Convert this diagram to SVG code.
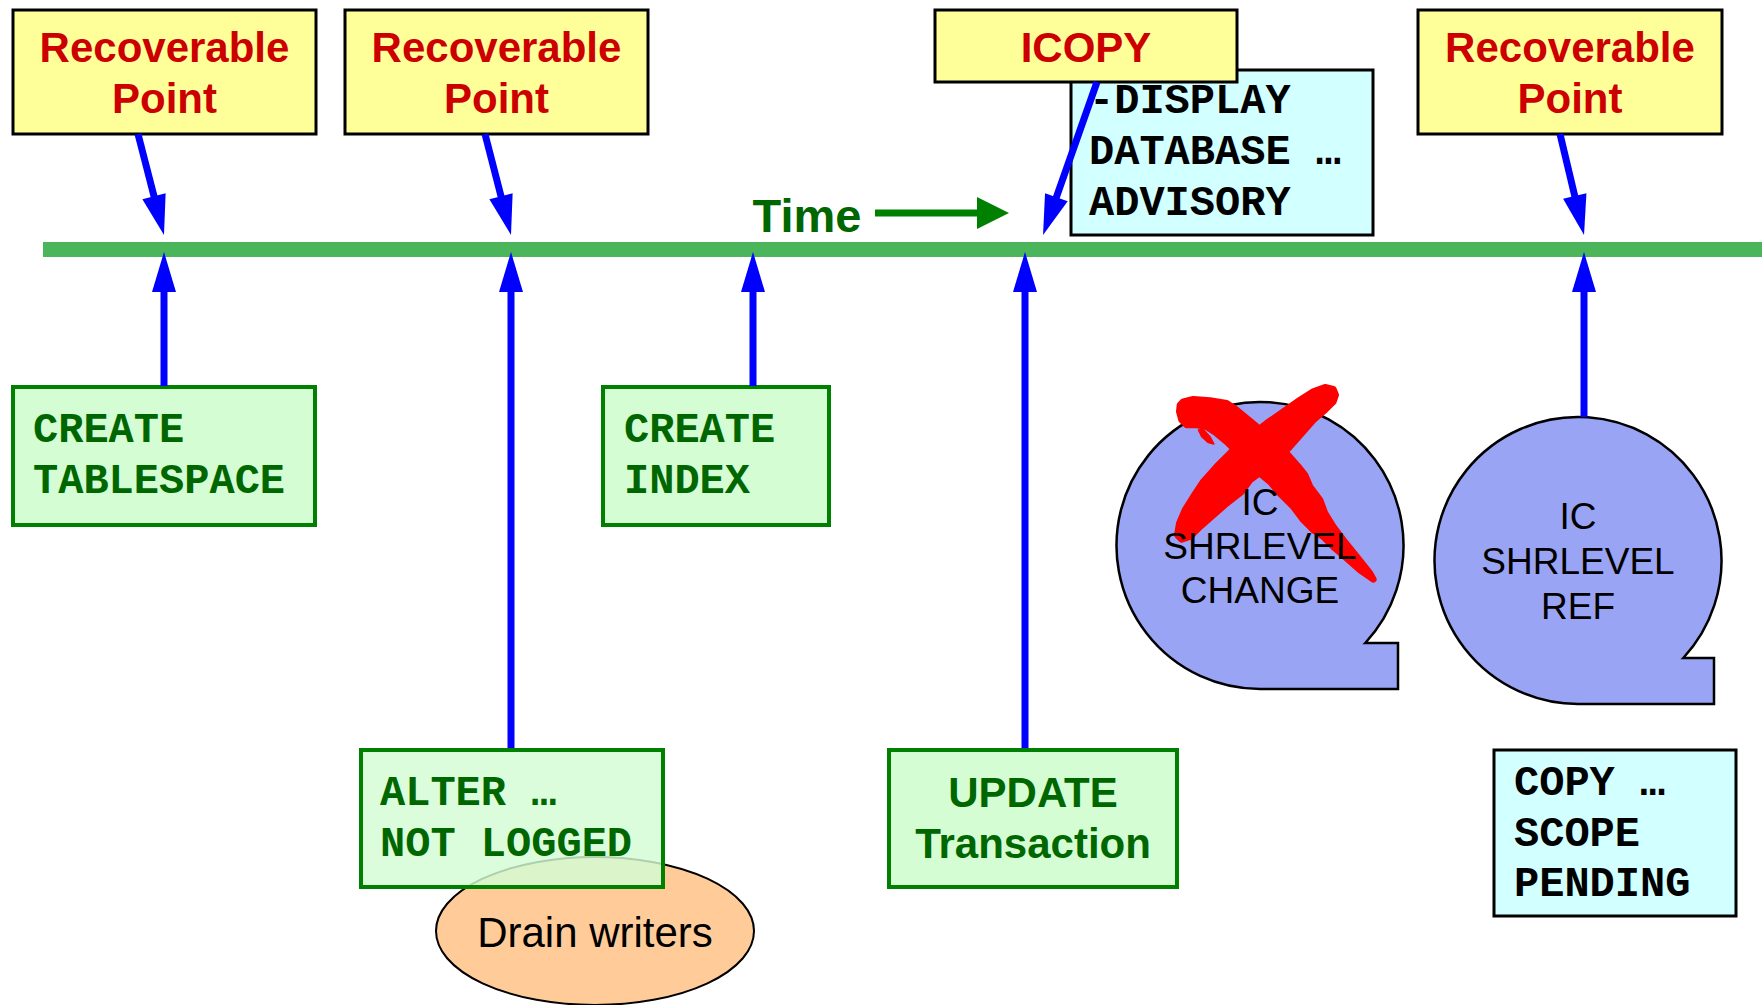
<svg xmlns="http://www.w3.org/2000/svg" width="1762" height="1005" viewBox="0 0 1762 1005">
  <style>
    .rp { fill: #ffff99; stroke: #000000; stroke-width: 3; }
    .rp-text { font-family: "Liberation Sans", Arial, sans-serif; font-weight: bold; font-size: 42px; fill: #cc0000; text-anchor: middle; }
    .cmd { fill: #d4fdd4; stroke: #008000; stroke-width: 4; }
    .cmd-text { font-family: "Liberation Mono", "Courier New", monospace; font-weight: bold; font-size: 42px; fill: #006600; }
    .note { fill: #d2ffff; stroke: #000000; stroke-width: 3; }
    .note-text { font-family: "Liberation Mono", "Courier New", monospace; font-weight: bold; font-size: 42px; fill: #000000; }
    .tx-text { font-family: "Liberation Sans", Arial, sans-serif; font-weight: bold; font-size: 42px; fill: #006600; text-anchor: middle; }
    .tape { fill: #9aa4f4; stroke: #000000; stroke-width: 2.5; }
    .tape-text { font-family: "Liberation Sans", Arial, sans-serif; font-size: 37px; fill: #000000; text-anchor: middle; }
    .flow { fill: none; stroke: #0000ff; stroke-width: 7; marker-end: url(#blue-head); }
    .brush { fill: #ff0000; stroke: #ff0000; stroke-width: 20; stroke-linejoin: round; }
  </style>
  <defs>
    <marker id="blue-head" markerUnits="userSpaceOnUse" markerWidth="40" markerHeight="24" refX="20" refY="12" orient="auto" overflow="visible">
      <path d="M0,0 L40,12 L0,24 Z" fill="#0000ff"/>
    </marker>
    <marker id="green-head" markerUnits="userSpaceOnUse" markerWidth="32" markerHeight="32" refX="16" refY="16" orient="auto" overflow="visible">
      <path d="M0,0 L32,16 L0,32 Z" fill="#008000"/>
    </marker>
  </defs>

  <rect width="1762" height="1005" fill="#ffffff"/>

  <!-- time line -->
  <g id="timeline">
    <rect x="43" y="242" width="1719" height="15" fill="#4ab55a"/>
    <text x="807" y="232" font-family="Liberation Sans, Arial, sans-serif" font-weight="bold" font-size="47" fill="#006600" text-anchor="middle">Time</text>
    <line x1="875" y1="213" x2="993" y2="213" stroke="#008000" stroke-width="7" marker-end="url(#green-head)"/>
  </g>

  <!-- recoverable points above the line -->
  <g id="rp1">
    <rect class="rp" x="13" y="10" width="303" height="124"/>
    <text class="rp-text" x="164.5" y="62">Recoverable</text>
    <text class="rp-text" x="164.5" y="113">Point</text>
  </g>
  <g id="rp2">
    <rect class="rp" x="345" y="10" width="303" height="124"/>
    <text class="rp-text" x="496.5" y="62">Recoverable</text>
    <text class="rp-text" x="496.5" y="113">Point</text>
  </g>
  <g id="display-note">
    <rect class="note" x="1071" y="70" width="302" height="165"/>
    <text class="note-text" x="1089" y="113">-DISPLAY</text>
    <text class="note-text" x="1089" y="164">DATABASE …</text>
    <text class="note-text" x="1089" y="215">ADVISORY</text>
  </g>
  <g id="icopy">
    <rect class="rp" x="935" y="10" width="302" height="72"/>
    <text class="rp-text" x="1086" y="62">ICOPY</text>
  </g>
  <g id="rp3">
    <rect class="rp" x="1418" y="10" width="304" height="124"/>
    <text class="rp-text" x="1570" y="62">Recoverable</text>
    <text class="rp-text" x="1570" y="113">Point</text>
  </g>

  <!-- events below the line -->
  <g id="create-tablespace">
    <rect class="cmd" x="13" y="387" width="302" height="138"/>
    <text class="cmd-text" x="33" y="442">CREATE</text>
    <text class="cmd-text" x="33" y="493">TABLESPACE</text>
  </g>
  <g id="create-index">
    <rect class="cmd" x="603" y="387" width="226" height="138"/>
    <text class="cmd-text" x="624" y="442">CREATE</text>
    <text class="cmd-text" x="624" y="493">INDEX</text>
  </g>
  <g id="drain-writers">
    <ellipse cx="595" cy="931" rx="159" ry="74" fill="#ffcc99" stroke="#000000" stroke-width="2"/>
    <text x="595" y="947" font-family="Liberation Sans, Arial, sans-serif" font-size="42" fill="#000000" text-anchor="middle">Drain writers</text>
  </g>
  <g id="alter-not-logged">
    <rect class="cmd" x="361" y="750" width="302" height="137" fill-opacity="0.82"/>
    <text class="cmd-text" x="380" y="805">ALTER …</text>
    <text class="cmd-text" x="380" y="856">NOT LOGGED</text>
  </g>
  <g id="update-transaction">
    <rect class="cmd" x="889" y="750" width="288" height="137"/>
    <text class="tx-text" x="1033" y="807">UPDATE</text>
    <text class="tx-text" x="1033" y="858">Transaction</text>
  </g>

  <g id="ic-shrlevel-change">
    <path class="tape" d="M1365.3,643 L1398,643 L1398,689 L1260,689 A143.5,143.5 0 1 1 1365.3,643 Z"/>
    <!-- struck-out brush mark -->
    <g transform="translate(1170,380) scale(0.3333)" class="brush">
      <path d="M28,95 L30,75 L40,65 L70,58 L120,62 L170,70 L200,90 L230,115 L260,140 L300,175 L350,220 L385,260 L405,285 L420,320 L450,360 L465,400 L490,440 L520,480 L560,530 L600,580 L610,598 L570,570 L530,535 L495,505 L460,470 L430,450 L400,420 L370,380 L330,340 L300,305 L270,280 L235,250 L200,215 L170,185 L140,160 L110,140 L80,135 L50,135 L35,120 Z"/>
      <path d="M85,150 L100,148 L120,170 L132,192 L115,188 L95,170 Z" stroke-width="4"/>
      <path d="M22,465 L28,430 L45,390 L70,350 L100,305 L140,260 L180,220 L230,175 L290,130 L340,95 L390,60 L430,35 L465,22 L490,28 L497,45 L490,65 L465,90 L430,120 L395,160 L360,200 L320,240 L280,270 L240,300 L215,335 L170,370 L130,405 L90,440 L60,470 L35,478 Z"/>
    </g>
    <text class="tape-text" x="1260" y="515">IC</text>
    <text class="tape-text" x="1260" y="559">SHRLEVEL</text>
    <text class="tape-text" x="1260" y="603">CHANGE</text>
  </g>
  <g id="ic-shrlevel-ref">
    <path class="tape" d="M1683.3,658 L1714,658 L1714,704 L1578,704 A143.5,143.5 0 1 1 1683.3,658 Z"/>
    <text class="tape-text" x="1578" y="529">IC</text>
    <text class="tape-text" x="1578" y="574">SHRLEVEL</text>
    <text class="tape-text" x="1578" y="619">REF</text>
  </g>
  <g id="copy-scope-pending">
    <rect class="note" x="1494" y="750" width="242" height="166"/>
    <text class="note-text" x="1514" y="795">COPY …</text>
    <text class="note-text" x="1514" y="846">SCOPE</text>
    <text class="note-text" x="1514" y="896">PENDING</text>
  </g>

  <!-- connectors -->
  <g id="connectors">
    <line class="flow" x1="138" y1="134" x2="159" y2="215.6"/>
    <line class="flow" x1="485" y1="134" x2="506" y2="215.6"/>
    <line class="flow" x1="1097" y1="82" x2="1049.7" y2="216.1"/>
    <line class="flow" x1="1560" y1="134" x2="1579.4" y2="215.5"/>
    <line class="flow" x1="164" y1="386" x2="164" y2="272"/>
    <line class="flow" x1="511" y1="748" x2="511" y2="272"/>
    <line class="flow" x1="753" y1="386" x2="753" y2="272"/>
    <line class="flow" x1="1025" y1="748" x2="1025" y2="272"/>
    <line class="flow" x1="1584" y1="417" x2="1584" y2="272"/>
  </g>
</svg>
